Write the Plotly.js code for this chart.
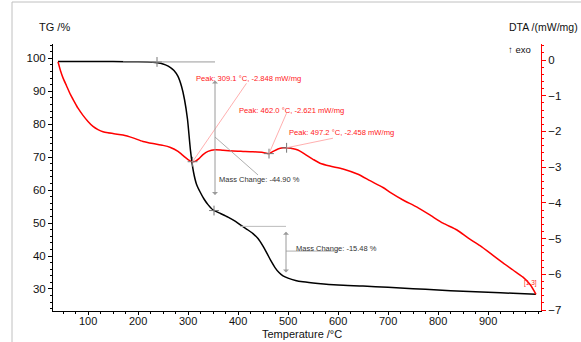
<!DOCTYPE html>
<html>
<head>
<meta charset="utf-8">
<script src="https://cdn.plot.ly/plotly-3.0.1.min.js"></script>
<style>
html,body{margin:0;padding:0;background:#fff;}
#chart{width:581px;height:342px;}
</style>
</head>
<body>
<div id="chart"></div>
<script>
// ---- Data ----
const tgTemp = [40, 100, 150, 200, 230, 245, 255, 265, 272, 280, 287, 293, 299, 305, 311, 317, 324, 332, 340, 350, 365, 380, 395, 407, 420, 430, 440, 450, 458, 466, 474, 482, 490, 500, 515, 530, 560, 600, 650, 700, 750, 800, 850, 900, 950, 996];
const tgMass = [99.0, 99.0, 99.0, 98.95, 98.8, 98.5, 98.0, 97.2, 96.3, 94.5, 91.5, 87.5, 81.5, 72.0, 65.5, 61.8, 59.5, 57.3, 55.6, 54.0, 52.9, 51.8, 50.5, 49.2, 47.9, 46.8, 45.3, 43.0, 40.8, 38.5, 36.5, 35.0, 34.0, 33.3, 32.6, 32.2, 31.7, 31.2, 30.9, 30.5, 30.1, 29.7, 29.3, 29.0, 28.7, 28.4];

const dtaTemp = [40, 45, 50, 57, 65, 72, 80, 90, 100, 110, 120, 130, 140, 155, 170, 190, 210, 230, 250, 265, 280, 292, 300, 305, 309.1, 315, 322, 330, 340, 354, 370, 390, 410, 430, 450, 462, 470, 480, 490, 497.2, 505, 515, 524, 535, 550, 564, 584, 610, 640, 664, 690, 706, 730, 758, 785, 810, 838, 860, 884, 910, 930, 950, 970, 985, 996];
const dtaVal = [-0.05, -0.3, -0.5, -0.72, -0.97, -1.15, -1.35, -1.55, -1.72, -1.86, -1.95, -2.01, -2.04, -2.07, -2.10, -2.18, -2.28, -2.34, -2.39, -2.45, -2.56, -2.70, -2.79, -2.83, -2.848, -2.83, -2.76, -2.65, -2.56, -2.51, -2.53, -2.55, -2.56, -2.57, -2.59, -2.621, -2.56, -2.49, -2.46, -2.458, -2.47, -2.50, -2.55, -2.65, -2.78, -2.89, -2.97, -3.05, -3.2, -3.38, -3.57, -3.72, -3.92, -4.12, -4.35, -4.57, -4.76, -4.98, -5.2, -5.47, -5.68, -5.88, -6.08, -6.3, -6.56];

const peakTemp = [309.1, 462.0, 497.2];
const peakVal = [-2.848, -2.621, -2.458];

const stepStartT = [238, 404];
const stepStartM = [98.9, 49.0];
const stepEndT = [352, 496];
const stepEndM = [53.8, 33.5];
const stepLoss = [-44.90, -15.48];

const xTicks = [100, 200, 300, 400, 500, 600, 700, 800, 900];
const tgTicks = [30, 40, 50, 60, 70, 80, 90, 100];
const dtaTicks = [0, -1, -2, -3, -4, -5, -6, -7];

// ---- helpers: pixel -> paper ----
const L = 53, R = 541, T = 44, B = 311;
const px = x => (x - L) / (R - L);
const py = y => (B - y) / (B - T);
const FONT = 'Arial, "Liberation Sans", sans-serif';

const crossMarker = {symbol: 'cross-thin-open', size: 7, color: '#777', line: {color: '#777', width: 1}};
const traces = [
  {x: tgTemp, y: tgMass, type: 'scatter', mode: 'lines', line: {color: '#000', width: 1.5, shape: 'spline', smoothing: 0.6}, yaxis: 'y', hoverinfo: 'skip'},
  {x: dtaTemp, y: dtaVal, type: 'scatter', mode: 'lines', line: {color: '#ff0000', width: 1.5, shape: 'spline', smoothing: 0.6}, yaxis: 'y2', hoverinfo: 'skip'},
  {x: peakTemp, y: peakVal, type: 'scatter', mode: 'markers', yaxis: 'y2', marker: crossMarker, hoverinfo: 'skip'},
  {x: [stepStartT[0], stepEndT[0]], y: [stepStartM[0], stepEndM[0]], type: 'scatter', mode: 'markers', yaxis: 'y', marker: crossMarker, hoverinfo: 'skip'}
];

const gray = '#9a9a9a';
const lightRed = '#ff9a9a';
const shapes = [
  // outer frame
  {type: 'rect', xref: 'paper', yref: 'paper', x0: px(12), x1: px(590), y0: py(350), y1: py(2), line: {color: '#c0c0c0', width: 1}},
  // mass change 1
  {type: 'line', xref: 'x', yref: 'y', x0: 170, x1: 354, y0: stepStartM[0], y1: stepStartM[0], line: {color: gray, width: 1}},
  {type: 'line', xref: 'x', yref: 'y', x0: stepEndT[0] + 2, x1: 440, y0: 76.1, y1: 64.6, line: {color: gray, width: 0.8}},
  // mass change 2
  {type: 'line', xref: 'x', yref: 'y', x0: stepStartT[1], x1: stepEndT[1], y0: stepStartM[1], y1: stepStartM[1], line: {color: '#bbbbbb', width: 1}},
  {type: 'line', xref: 'x', yref: 'y', x0: stepEndT[1], x1: 600, y0: 41.5, y1: 41.5, line: {color: gray, width: 0.8}},
  // peak leaders
  {type: 'line', xref: 'x', yref: 'y2', x0: peakTemp[0], y0: peakVal[0], x1: 417, y1: -0.652, line: {color: lightRed, width: 0.8}},
  {type: 'line', xref: 'x', yref: 'y2', x0: peakTemp[1], y0: peakVal[1], x1: 497, y1: -1.49, line: {color: lightRed, width: 0.8}},
  {type: 'line', xref: 'x', yref: 'y2', x0: peakTemp[2], y0: peakVal[2], x1: 590, y1: -2.19, line: {color: lightRed, width: 0.8}}
];

const txt = (x, y, text, size, color) => ({xref: 'paper', yref: 'paper', x: px(x), y: py(y), xanchor: 'center', yanchor: 'middle', text: text, showarrow: false, font: {size: size, color: color || '#111', family: FONT}});

const annotations = [
  txt(54, 27, 'TG /%', 11),
  txt(543, 27, 'DTA /(mW/mg)', 10.5),
  txt(519, 49, '↑ exo', 9.5),
  txt(302, 333.5, 'Temperature /°C', 11),
  // mass change arrows
  {xref: 'x', yref: 'y', axref: 'x', ayref: 'y', x: stepEndT[0] + 2, y: 58.5, ax: stepEndT[0] + 2, ay: 93.7, text: '', showarrow: true, arrowhead: 1, arrowside: 'end+start', arrowsize: 1, arrowwidth: 1, arrowcolor: gray},
  {xref: 'x', yref: 'y', axref: 'x', ayref: 'y', x: stepEndT[1], y: 35.0, ax: stepEndT[1], ay: 47.8, text: '', showarrow: true, arrowhead: 1, arrowside: 'end+start', arrowsize: 1, arrowwidth: 1, arrowcolor: gray},
  {xref: 'x', yref: 'y', x: 358, y: 63.1, xanchor: 'left', yanchor: 'middle', text: 'Mass Change: ' + stepLoss[0].toFixed(2) + ' %', showarrow: false, font: {size: 7.5, color: '#333', family: FONT}},
  {xref: 'x', yref: 'y', x: 512, y: 42.3, xanchor: 'left', yanchor: 'middle', text: 'Mass Change: ' + stepLoss[1].toFixed(2) + ' %', showarrow: false, font: {size: 7.5, color: '#333', family: FONT}},
  // peak labels
  {xref: 'x', yref: 'y2', x: 312, y: -0.53, xanchor: 'left', yanchor: 'middle', text: 'Peak: ' + peakTemp[0].toFixed(1) + ' °C, ' + peakVal[0].toFixed(3) + ' mW/mg', showarrow: false, font: {size: 7.6, color: '#ff2020', family: FONT}},
  {xref: 'x', yref: 'y2', x: 398, y: -1.40, xanchor: 'left', yanchor: 'middle', text: 'Peak: ' + peakTemp[1].toFixed(1) + ' °C, ' + peakVal[1].toFixed(3) + ' mW/mg', showarrow: false, font: {size: 7.6, color: '#ff2020', family: FONT}},
  {xref: 'x', yref: 'y2', x: 498, y: -2.04, xanchor: 'left', yanchor: 'middle', text: 'Peak: ' + peakTemp[2].toFixed(1) + ' °C, ' + peakVal[2].toFixed(3) + ' mW/mg', showarrow: false, font: {size: 7.6, color: '#ff2020', family: FONT}},
  {xref: 'x', yref: 'y2', x: 984, y: -6.24, xanchor: 'center', yanchor: 'middle', text: '[1.3]', showarrow: false, font: {size: 6.5, color: '#ff2020', family: FONT}}
].concat(xTicks.map(v => ({xref: 'x', yref: 'paper', x: v, y: py(320.5), xanchor: 'center', yanchor: 'middle', text: String(v), showarrow: false, font: {size: 11, color: '#111', family: FONT}})));

const layout = {
  width: 581, height: 342,
  margin: {l: L, r: 581 - R, t: T, b: 342 - B, pad: 0},
  paper_bgcolor: '#fff', plot_bgcolor: '#fff',
  showlegend: false,
  font: {family: FONT, size: 11, color: '#111'},
  xaxis: {
    range: [30, 1006], tickvals: xTicks, ticks: 'outside', ticklen: 3, tickcolor: '#000',
    showline: true, linecolor: '#000', linewidth: 1, showgrid: false, zeroline: false,
    showticklabels: false,
    minor: {dtick: 25, tick0: 0, ticks: 'outside', ticklen: 2, tickcolor: '#000'}
  },
  yaxis: {
    range: [23.32, 104.34], tickvals: tgTicks, ticks: 'outside', ticklen: 4, tickcolor: '#000',
    showline: true, linecolor: '#000', linewidth: 1, showgrid: false, zeroline: false,
    tickfont: {size: 11.5, color: '#111'},
    minor: {dtick: 2, tick0: 0, ticks: 'outside', ticklen: 2, tickcolor: '#000'}
  },
  yaxis2: {
    overlaying: 'y', side: 'right',
    range: [-7.028, 0.448], tickvals: dtaTicks, ticks: 'outside', ticklen: 4, tickcolor: '#ff0000',
    showline: true, linecolor: '#ff0000', linewidth: 1, showgrid: false, zeroline: false,
    tickfont: {size: 11.5, color: '#111'},
    minor: {dtick: 0.2, tick0: 0, ticks: 'outside', ticklen: 2, tickcolor: '#ff0000'}
  },
  shapes: shapes,
  annotations: annotations
};

Plotly.newPlot('chart', traces, layout, {staticPlot: true, displayModeBar: false});
</script>
</body>
</html>
